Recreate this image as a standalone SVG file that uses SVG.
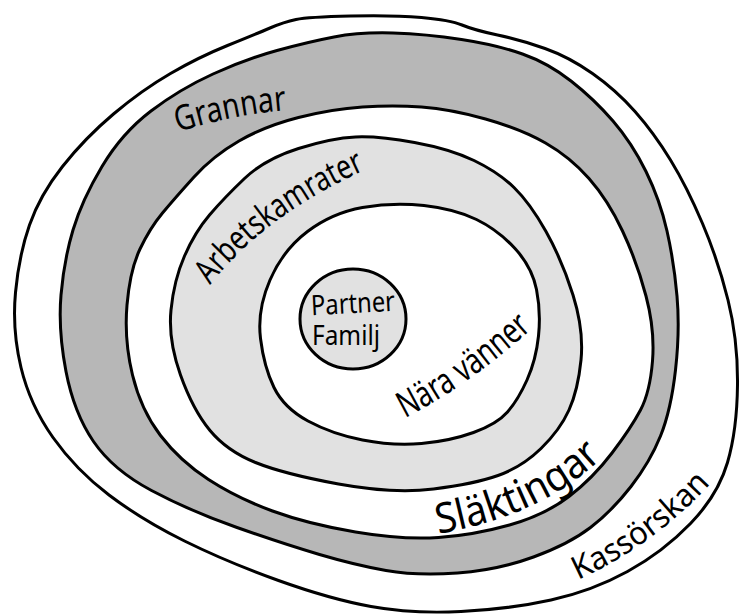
<svg xmlns="http://www.w3.org/2000/svg" width="742" height="615" viewBox="0 0 742 615">
<style>
.ring{stroke:#000;stroke-width:3;stroke-linejoin:round}
.w{fill:#fff}
.d{fill:#b7b7b7}
.l{fill:#e1e1e1}
.t{font-family:"Noto Sans","Open Sans","DejaVu Sans",sans-serif;fill:#000;font-weight:400}
</style>
<defs>
<path id="pGrannar" d="M178,132 Q235,114 290,110"/>
<path id="pArbets" d="M210,285 Q265,215 365,170"/>
<path id="pNara" d="M405,418 Q470,385 535,326"/>
<path id="pSlakt" d="M438,534 Q545,515 605,455"/>
<path id="pKass" d="M578,580 Q655,545 712,482"/>
</defs>
<rect width="742" height="615" fill="#fff"/>
<g id="kassorskan">
<path class="ring w" d="M296,19.5 Q308,17 350.5,16 Q393,15 421.5,17.5 Q450,20 462,25 Q474,30 497.5,35 Q521,40 545,48.5 Q569,57 592.5,73.5 Q616,90 635,111.5 Q654,133 670.5,160 Q687,187 702.5,223.5 Q718,260 728,300 Q738,340 737.5,385 Q737,430 727.5,462.5 Q718,495 690.5,523.5 Q663,552 627.5,571.5 Q592,591 551,600 Q510,609 461,611.5 Q412,614 371,606.5 Q330,599 278.5,580.5 Q227,562 184.5,541 Q142,520 109,495 Q76,470 53,437.5 Q30,405 21,367.5 Q12,330 15.5,292.5 Q19,255 29.5,225 Q40,195 62.5,166.5 Q85,138 113.5,114 Q142,90 170.5,73.5 Q199,57 227.5,45.5 Q256,34 270,28 Q284,22 296,19.5 Z"/>
<text class="t" font-size="32"><textPath href="#pKass" textLength="165" lengthAdjust="spacingAndGlyphs">Kassörskan</textPath></text>
</g>
<g id="grannar">
<path class="ring d" d="M334,37 Q360,32 393,33 Q426,34 461.5,39.5 Q497,45 522.5,54 Q548,63 571,81 Q594,99 613,121 Q632,143 646,171.5 Q660,200 667,231 Q674,262 677,296 Q680,330 675.5,370 Q671,410 660.5,436 Q650,462 631,486.5 Q612,511 590.5,527.5 Q569,544 533.5,557 Q498,570 457.5,573 Q417,576 386,570.5 Q355,565 319.5,554.5 Q284,544 237,527.5 Q190,511 151.5,490.5 Q113,470 93.5,441.5 Q74,413 66,371.5 Q58,330 61,295 Q64,260 73,230 Q82,200 102,166.5 Q122,133 151,111 Q180,89 213,74 Q246,59 277,50.5 Q308,42 334,37 Z"/>
<text class="t" font-size="35"><textPath href="#pGrannar" textLength="111" lengthAdjust="spacingAndGlyphs">Grannar</textPath></text>
</g>
<g id="slaktingar">
<path class="ring w" d="M362.5,107 Q393,105 421.5,107 Q450,109 485.5,119 Q521,129 545.5,143 Q570,157 589,178.5 Q608,200 622.5,231 Q637,262 646,296 Q655,330 652.5,361 Q650,392 640.5,410 Q631,428 612,453 Q593,478 569,496.5 Q545,515 509.5,525 Q474,535 438.5,537.5 Q403,540 355.5,532 Q308,524 272.5,511 Q237,498 208.5,479.5 Q180,461 160.5,435.5 Q141,410 132.5,375 Q124,340 127,305 Q130,270 140,249 Q150,228 162.5,213 Q175,198 194,177 Q213,156 239,141 Q265,126 298.5,117.5 Q332,109 362.5,107 Z"/>
<text class="t" font-size="42"><textPath href="#pSlakt" textLength="184" lengthAdjust="spacingAndGlyphs">Släktingar</textPath></text>
</g>
<g id="arbetskamrater">
<path class="ring l" d="M355.5,137 Q379,136 414.5,142.5 Q450,149 474,160.5 Q498,172 514,187.5 Q530,203 546,231.5 Q562,260 573,295 Q584,330 581,360 Q578,390 569,410 Q560,430 541,448.5 Q522,467 498,475.5 Q474,484 433.5,489 Q393,494 338.5,484 Q284,474 255.5,462.5 Q227,451 210,430.5 Q193,410 180.5,375 Q168,340 171,310 Q174,280 184.5,256 Q195,232 209.5,215 Q224,198 244.5,178.5 Q265,159 298.5,148.5 Q332,138 355.5,137 Z"/>
<text class="t" font-size="34"><textPath href="#pArbets" textLength="195" lengthAdjust="spacingAndGlyphs">Arbetskamrater</textPath></text>
</g>
<g id="nara-vanner">
<path class="ring w" d="M362.5,207.5 Q393,202 424,205.5 Q455,209 476.5,219.5 Q498,230 515,248.5 Q532,267 536.5,289.5 Q541,312 538.5,336 Q536,360 527,380 Q518,400 507.5,412 Q497,424 473.5,432.5 Q450,441 421.5,443.5 Q393,446 362.5,440 Q332,434 308,421 Q284,408 274,387.5 Q264,367 260.5,338.5 Q257,310 270,280 Q283,250 307.5,231.5 Q332,213 362.5,207.5 Z"/>
<text class="t" font-size="36"><textPath href="#pNara" textLength="156" lengthAdjust="spacingAndGlyphs">Nära vänner</textPath></text>
</g>
<g id="partner-familj">
<ellipse class="ring l" cx="353" cy="319" rx="53" ry="50"/>
<text class="t" font-size="28" x="311" y="313" textLength="84" lengthAdjust="spacingAndGlyphs" transform="rotate(-3 353 305)">Partner</text>
<text class="t" font-size="28" x="312" y="345" textLength="68" lengthAdjust="spacingAndGlyphs">Familj</text>
</g>
<g id="connectors"/>
</svg>
